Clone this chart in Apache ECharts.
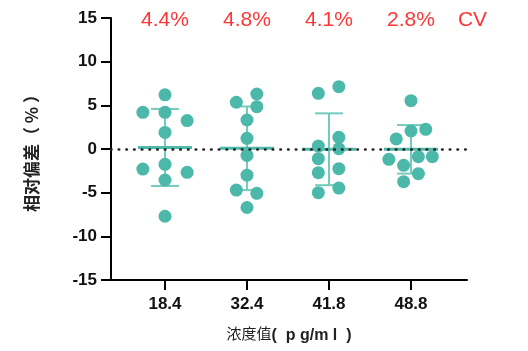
<!DOCTYPE html>
<html>
<head>
<meta charset="utf-8">
<script src="https://cdn.jsdelivr.net/npm/echarts@6/dist/echarts.min.js"></script>
<style>
  html, body { margin: 0; padding: 0; background: #fff; }
  #chart { width: 528px; height: 351px; }
</style>
</head>
<body>
<div id="chart"></div>
<script>
// concentrations on the x axis
const categories = ["18.4", "32.4", "41.8", "48.8"];
const cvLabels = ["4.4%", "4.8%", "4.1%", "2.8%"];

// relative deviation (%) of each replicate, per concentration
const deviations = [
  [6.2, 4.2, 4.2, 3.25, 1.9, -1.75, -2.3, -2.67, -3.55, -7.7],
  [6.3, 5.35, 4.85, 3.32, 1.22, -0.73, -3.0, -4.7, -5.08, -6.7],
  [7.14, 6.38, 1.34, 0.34, 0.03, -1.11, -2.25, -2.71, -4.47, -5.0],
  [5.53, 2.25, 2.06, 1.15, -0.88, -0.88, -1.18, -1.87, -2.83, -3.74],
];
// horizontal spread of the dots (in category units), same order as above
const spread = [
  [0, -0.27, 0, 0.27, 0, 0, -0.27, 0.27, 0, 0],
  [0.12, -0.13, 0.12, 0, 0, 0, 0, -0.13, 0.12, 0],
  [0.12, -0.13, 0.12, -0.13, 0.12, -0.13, 0.12, -0.13, 0.12, -0.13],
  [0, 0.18, 0, -0.18, 0.09, 0.26, -0.27, -0.09, 0.09, -0.09],
];

const TEAL = "#4bb8a9";
const TEAL_LIGHT = "#74cabd";
const LATIN = "Arial, 'Liberation Sans', sans-serif";
const CJK = "'Noto Sans CJK SC', Arial, sans-serif";

const mean = (a) => a.reduce((s, v) => s + v, 0) / a.length;
const sd = (a) => {
  const m = mean(a);
  return Math.sqrt(a.reduce((s, v) => s + (v - m) * (v - m), 0) / (a.length - 1));
};

const dotData = [];
deviations.forEach((vals, i) => {
  vals.forEach((v, j) => dotData.push([i + 1 + spread[i][j], v]));
});

const statData = deviations.map((vals, i) => [i + 1, mean(vals), sd(vals)]);

const cvData = cvLabels.map((t, i) => ({ value: [i + 1, 15], name: t }));
cvData.push({ value: [4.75, 15], name: "CV" });

const chart = echarts.init(document.getElementById("chart"));

chart.setOption({
  animation: false,
  grid: { left: 111, right: 61, top: 18, bottom: 71 },
  xAxis: {
    type: "value",
    min: 0.3415,
    max: 4.683,
    name: "{cn|浓度值}{en|(  p g/m l  )}",
    nameLocation: "middle",
    nameGap: 46,
    nameTextStyle: {
      rich: {
        cn: { fontFamily: CJK, fontSize: 15, color: "#222", padding: [0, 0, 5, 0] },
        en: { fontFamily: LATIN, fontSize: 16, fontWeight: "bold", color: "#222" },
      },
    },
    splitLine: { show: false },
    axisLine: { onZero: false, lineStyle: { color: "#000", width: 2 } },
    axisTick: { customValues: [1, 2, 3, 4], length: 10, lineStyle: { color: "#000", width: 2 } },
    axisLabel: {
      customValues: [1, 2, 3, 4],
      margin: 16,
      formatter: (v) => categories[Math.round(v) - 1],
      fontFamily: LATIN,
      fontWeight: "bold",
      fontSize: 17,
      color: "#111",
    },
  },
  yAxis: {
    type: "value",
    min: -15,
    max: 15,
    interval: 5,
    name: "相对偏差（ % ）",
    nameLocation: "middle",
    nameGap: 71,
    nameRotate: 90,
    nameTextStyle: { fontFamily: CJK, fontSize: 17, fontWeight: "bold", color: "#222" },
    splitLine: { show: false },
    axisLine: { show: true, onZero: false, lineStyle: { color: "#000", width: 2 } },
    axisTick: { show: true, length: 10, lineStyle: { color: "#000", width: 2 } },
    axisLabel: {
      margin: 14,
      fontFamily: LATIN,
      fontWeight: "bold",
      fontSize: 17,
      color: "#111",
    },
  },
  series: [
    {
      // mean and SD bars
      type: "custom",
      z: 2,
      data: statData,
      renderItem: (params, api) => {
        const x = api.value(0);
        const m = api.value(1);
        const s = api.value(2);
        const top = api.coord([x, m + s]);
        const bot = api.coord([x, m - s]);
        const capL = api.coord([x - 0.17, m])[0];
        const capR = api.coord([x + 0.17, m])[0];
        const midL = api.coord([x - 0.33, m]);
        const midR = api.coord([x + 0.33, m]);
        const thin = { stroke: TEAL_LIGHT, lineWidth: 2 };
        return {
          type: "group",
          children: [
            { type: "line", shape: { x1: top[0], y1: top[1], x2: bot[0], y2: bot[1] }, style: thin },
            { type: "line", shape: { x1: capL, y1: top[1], x2: capR, y2: top[1] }, style: thin },
            { type: "line", shape: { x1: capL, y1: bot[1], x2: capR, y2: bot[1] }, style: thin },
            { type: "line", shape: { x1: midL[0], y1: midL[1], x2: midR[0], y2: midR[1] }, style: { stroke: TEAL, lineWidth: 3 } },
          ],
        };
      },
    },
    {
      // dotted zero line
      type: "line",
      z: 3,
      data: [],
      markLine: {
        silent: true,
        symbol: "none",
        label: { show: false },
        lineStyle: { color: "#222", width: 2.6, type: [0.5, 7.2], cap: "round" },
        data: [{ yAxis: 0 }],
      },
    },
    {
      type: "scatter",
      z: 4,
      symbolSize: 13,
      itemStyle: { color: TEAL, opacity: 1 },
      data: dotData,
    },
    {
      // CV annotations along the top
      type: "scatter",
      z: 5,
      clip: false,
      symbolSize: 1,
      itemStyle: { color: "rgba(0,0,0,0)" },
      label: {
        show: true,
        position: "inside",
        offset: [0, 2],
        formatter: (p) => p.name,
        fontFamily: LATIN,
        fontSize: 21,
        color: "#ff0000",
      },
      data: cvData,
    },
  ],
});
</script>
</body>
</html>
